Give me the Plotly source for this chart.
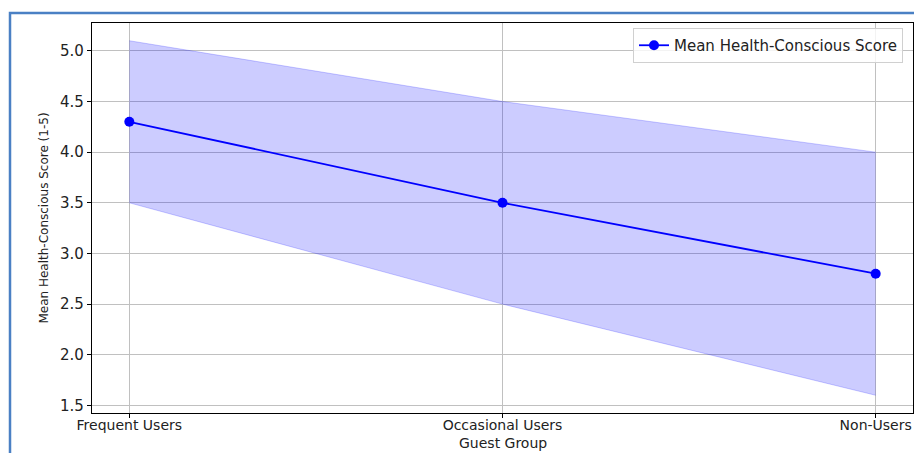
import plotly.graph_objects as go

groups = ["Frequent Users", "Occasional Users", "Non-Users"]
mean_scores = [4.3, 3.5, 2.8]
lower_bounds = [3.5, 2.5, 1.6]
upper_bounds = [5.1, 4.5, 4.0]
y_ticks = [1.5, 2.0, 2.5, 3.0, 3.5, 4.0, 4.5, 5.0]

# page body has an 8px margin, so the figure is sized to fit the window
OFF = 8
W, H = 922 - OFF, 453 - OFF
L, R, T, B = 92 - OFF, 9, 23 - OFF, 40
pw, ph = W - L - R, H - T - B

fig = go.Figure()
fig.add_trace(go.Scatter(
    x=groups, y=upper_bounds, mode="lines",
    line=dict(color="rgba(0,0,255,0.2)", width=1),
    showlegend=False, hoverinfo="skip"))
fig.add_trace(go.Scatter(
    x=groups, y=lower_bounds, mode="lines",
    line=dict(color="rgba(0,0,255,0.2)", width=1),
    fill="tonexty", fillcolor="rgba(0,0,255,0.2)",
    showlegend=False, hoverinfo="skip"))
fig.add_trace(go.Scatter(
    x=groups, y=mean_scores, mode="lines+markers",
    name="Mean Health-Conscious Score",
    line=dict(color="blue", width=1.8),
    marker=dict(color="blue", size=10)))

font_main = "DejaVu Sans"
axis_common = dict(
    showline=True, linecolor="black", linewidth=1.2, mirror=True,
    ticks="outside", ticklen=4, tickcolor="black", tickwidth=1,
    showgrid=True, gridcolor="#c0c0c0", gridwidth=1,
    zeroline=False, automargin=False,
)

fig.update_layout(
    width=W, height=H,
    margin=dict(l=L, r=R, t=T, b=B),
    paper_bgcolor="white", plot_bgcolor="white",
    xaxis=dict(type="category", range=[-0.1, 2.1], ticklabelstandoff=-5,
               tickfont=dict(family=font_main, size=14, color="#222"),
               **axis_common),
    yaxis=dict(range=[1.425, 5.275], tickvals=y_ticks,
               ticktext=[f"{v:.1f}" for v in y_ticks],
               tickfont=dict(family=font_main, size=15, color="#222"),
               title=dict(text="Mean Health-Conscious Score (1-5)", standoff=8,
                          font=dict(family=font_main, size=12, color="#222")),
               **axis_common),
    legend=dict(x=(903 - OFF - L) / pw, y=1 - 5 / ph, xanchor="right", yanchor="top",
                bgcolor="rgba(255,255,255,0.8)", bordercolor="#d0d0d0", borderwidth=1,
                font=dict(family=font_main, size=15, color="#222")),
    annotations=[dict(text="Guest Group", xref="paper", yref="paper",
                      x=0.5, y=-(443 - 413) / ph, xanchor="center", yanchor="middle",
                      showarrow=False,
                      font=dict(family=font_main, size=14, color="#222"))],
    shapes=[dict(type="rect", xref="paper", yref="paper",
                 x0=(10 - OFF - L) / pw, x1=(W + 20 - L) / pw,
                 y0=-(B + 20) / ph, y1=1 + (T - (13 - OFF)) / ph,
                 line=dict(color="#4a80c4", width=2.5), layer="below")],
)

fig.write_html("out.html")
